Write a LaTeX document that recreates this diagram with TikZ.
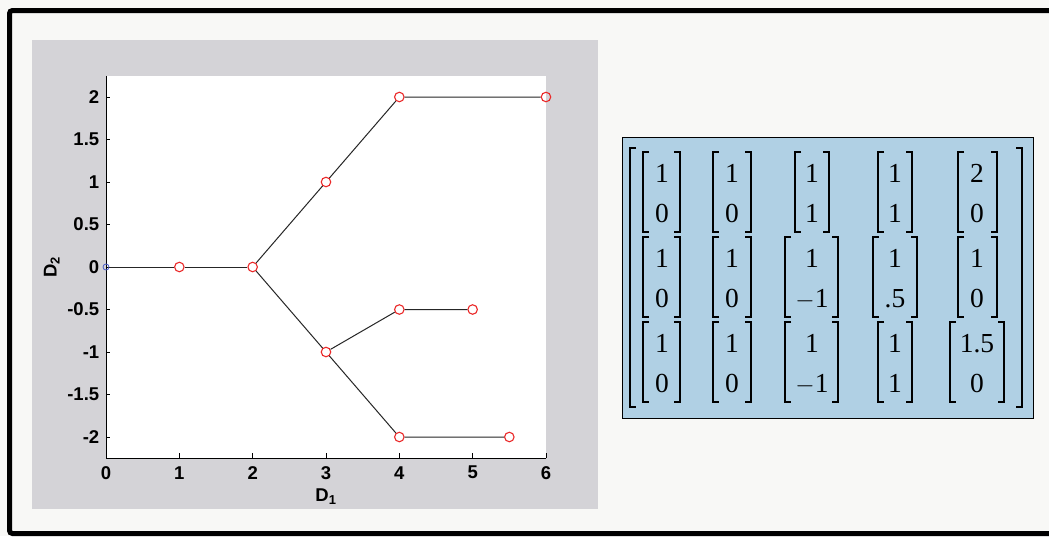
\documentclass[tikz,border=0pt]{standalone}
\usepackage{fontspec}
\setmainfont{Liberation Serif}
\newfontfamily\plotfont{Liberation Sans}
\definecolor{pagebg}{RGB}{248,248,246}
\definecolor{panelgray}{RGB}{212,211,215}
\definecolor{boxblue}{RGB}{176,208,228}
\definecolor{markred}{RGB}{235,40,40}
\definecolor{markblue}{RGB}{70,90,200}
\tikzset{
  mk/.style={circle,draw=markred,line width=1.1pt,inner sep=0pt,minimum size=9.5pt},
  mkblue/.style={circle,draw=markblue,line width=0.8pt,inner sep=0pt,minimum size=6pt},
  dataline/.style={draw=black!85,line width=1pt},
  ticklab/.style={font=\plotfont\bfseries\fontsize{18.5}{20}\selectfont,inner sep=0pt},
  brk/.style={line width=1.3pt},
  vec/.style={font=\fontsize{27.5}{28}\selectfont,inner sep=0pt,anchor=base}
}
\begin{document}
\begin{tikzpicture}[x=1pt,y=-1pt]
\useasboundingbox (0,0) rectangle (1049,536);
\fill[pagebg] (0,0) rectangle (1049,536);
% outer frame
\draw[line width=5pt,rounded corners=3pt] (1052,10.5) -- (9.5,10.5) -- (9.5,533.5) -- (1052,533.5);
% gray panel
\fill[panelgray] (32,40) rectangle (598,509);
% plot
\begin{scope}[xshift=106pt,yshift=-267pt,x=73.33pt,y=85pt]
  \fill[white] (0,-2.25) rectangle (6,2.25);
  \draw[line width=0.8pt] (0,2.25) -- (0,-2.25) -- (6,-2.25);
  \foreach \i in {1,...,6} \draw[line width=0.7pt] (\i,-2.25) -- ++(0,0.06);
  \foreach \v in {-2,-1.5,...,2} \draw[line width=0.7pt] (0,\v) -- ++(0.06,0);
  \foreach \i in {0,...,6} \node[ticklab] (xt\i) at (\i,-2.42) {\i};
  \foreach \v/\t in {2/2,1.5/1.5,1/1,0.5/0.5,0/0,-0.5/-0.5,-1/-1,-1.5/-1.5,-2/-2}
    \node[ticklab,anchor=east] at (-0.09,\v) {\t};
  \node[ticklab] (xl) at (3,-2.7) {D\textsubscript{1}};
  \node[ticklab,rotate=90] (yl) at (-0.74,0) {D\textsubscript{2}};
  % data points
  \node[mkblue] (p0) at (0,0) {};
  \node[mk] (p1) at (1,0) {};
  \node[mk] (p2) at (2,0) {};
  \node[mk] (a3) at (3,1) {};
  \node[mk] (a4) at (4,2) {};
  \node[mk] (a6) at (6,2) {};
  \node[mk] (b3) at (3,-1) {};
  \node[mk] (b4) at (4,-0.5) {};
  \node[mk] (b5) at (5,-0.5) {};
  \node[mk] (c4) at (4,-2) {};
  \node[mk] (c5) at (5.5,-2) {};
  \draw[dataline] (p0) -- (p1) -- (p2);
  \draw[dataline] (p2) -- (a3) -- (a4) -- (a6);
  \draw[dataline] (p2) -- (b3) -- (c4) -- (c5);
  \draw[dataline] (b3) -- (b4) -- (b5);
\end{scope}
% matrix box
\draw[fill=boxblue,line width=1pt] (622,137) rectangle (1033,418);
\draw[brk] (636,148) -- (630,148) -- (630,407) -- (636,407);
\draw[brk] (1016,148) -- (1022,148) -- (1022,407) -- (1016,407);
% column vectors: rows start at y 152, 237, 322
\foreach \ty/\a/\b/\c/\d/\e/\f/\g/\h/\i/\j in {152/1/0/1/0/1/1/1/1/2/0, 237/1/0/1/0/1/$-$1/1/.5/1/0, 322/1/0/1/0/1/$-$1/1/1/1.5/0}{
  \node[vec] at (662,\ty+30) {\a};
  \node[vec] at (662,\ty+70) {\b};
  \node[vec] at (732,\ty+30) {\c};
  \node[vec] at (732,\ty+70) {\d};
  \node[vec] at (812,\ty+30) {\e};
  \node[vec] at (812,\ty+70) {\f};
  \node[vec] at (895,\ty+30) {\g};
  \node[vec] at (895,\ty+70) {\h};
  \node[vec] at (977,\ty+30) {\i};
  \node[vec] at (977,\ty+70) {\j};
}
% brackets: left/right x per column and row
\foreach \ty/\la/\ra/\lb/\rb/\lc/\rc/\ld/\rd/\le/\re in {
  152/643/680/713/751/795/829/878/912/958/997,
  237/643/680/713/751/785/838/873/917/958/997,
  322/643/680/713/751/785/838/878/912/950/1004}{
  \foreach \l/\r in {\la/\ra,\lb/\rb,\lc/\rc,\ld/\rd,\le/\re}{
    \draw[brk] (\l+6,\ty) -- (\l,\ty) -- (\l,\ty+80) -- (\l+6,\ty+80);
    \draw[brk] (\r-6,\ty) -- (\r,\ty) -- (\r,\ty+80) -- (\r-6,\ty+80);
  }
}
\end{tikzpicture}
\end{document}
